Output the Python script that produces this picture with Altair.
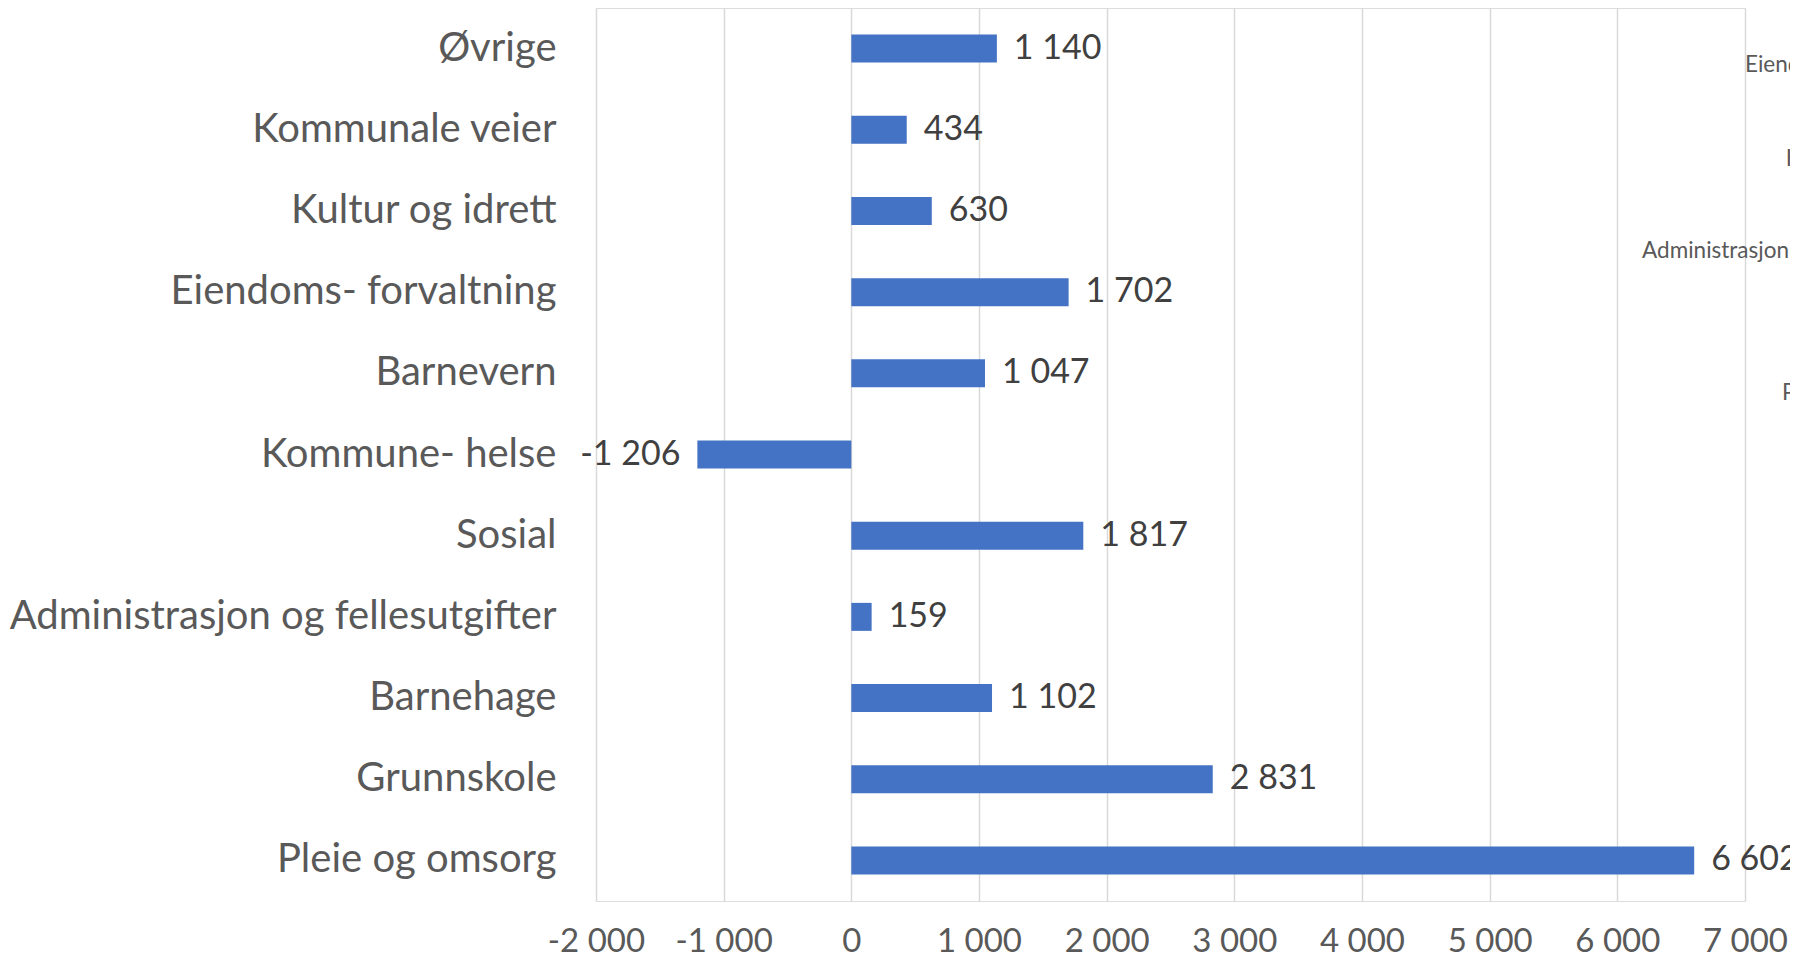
import altair as alt
import pandas as pd

categories = [
    "Øvrige",
    "Kommunale veier",
    "Kultur og idrett",
    "Eiendoms- forvaltning",
    "Barnevern",
    "Kommune- helse",
    "Sosial",
    "Administrasjon og fellesutgifter",
    "Barnehage",
    "Grunnskole",
    "Pleie og omsorg",
]
values = [1140, 434, 630, 1702, 1047, -1206, 1817, 159, 1102, 2831, 6602]

x_ticks = [-2000, -1000, 0, 1000, 2000, 3000, 4000, 5000, 6000, 7000]

# fragments of text from a neighbouring chart, cut off at the right edge
ghost_texts = ["Eiendoms- forvaltning", "Kommunale veier", "Administrasjon og fellesutgifter", "Pleie og omsorg"]
ghost_x = [7000, 7320, 6194, 7290]
ghost_y = [57, 151, 243, 385]


def fmt(v):
    s = f"{abs(v):,}".replace(",", " ")
    return ("-" if v < 0 else "") + s


df = pd.DataFrame({"cat": categories, "val": values, "label": [fmt(v) for v in values]})
gdf = pd.DataFrame({"txt": ghost_texts, "gx": ghost_x, "gy": ghost_y})

FONT = "Lato"
x_scale = alt.Scale(domain=[-2000, 7000], nice=False, zero=False)
y_scale = alt.Scale(domain=categories, paddingInner=0.655, paddingOuter=0.3275)

x_enc = alt.X(
    "val:Q",
    scale=x_scale,
    axis=alt.Axis(
        values=x_ticks,
        title=None,
        domain=False,
        ticks=False,
        grid=True,
        gridColor="#d9d9d9",
        gridWidth=1.5,
        labelFont=FONT,
        labelFontSize=33,
        labelColor="#595959",
        labelPadding=24,
        labelOverlap=False,
        labelFlush=False,
        labelBound=False,
        labelExpr="replace(replace(format(datum.value, ','), ',', ' '), '\u2212', '-')",
    ),
)
y_enc = alt.Y(
    "cat:N",
    scale=y_scale,
    sort=categories,
    axis=alt.Axis(
        title=None,
        domain=False,
        ticks=False,
        grid=False,
        labelFont=FONT,
        labelFontSize=40,
        labelColor="#595959",
        labelPadding=40,
        labelLimit=700,
    ),
)

base = alt.Chart(df)
bars = base.mark_bar(color="#4472C4").encode(x=x_enc, y=y_enc)

pos_labels = base.transform_filter("datum.val >= 0").mark_text(
    align="left", baseline="middle", dx=17, font=FONT, fontSize=34, color="#404040"
).encode(x="val:Q", y=alt.Y("cat:N", sort=categories), text="label:N")

neg_labels = base.transform_filter("datum.val < 0").mark_text(
    align="right", baseline="middle", dx=-17, font=FONT, fontSize=34, color="#404040"
).encode(x="val:Q", y=alt.Y("cat:N", sort=categories), text="label:N")

ghost = alt.Chart(gdf).mark_text(
    align="left", baseline="middle", font=FONT, fontSize=22.5, color="#595959", clip=False
).encode(x=alt.X("gx:Q"), y=alt.Y("gy:Q", scale=None), text="txt:N")

chart = (
    alt.layer(bars, pos_labels, neg_labels, ghost)
    .properties(
        width=1149,
        height=893,
        autosize=alt.AutoSizeParams(type="none"),
        padding={"left": 588, "top": 0, "right": 45, "bottom": 51},
    )
    .configure_view(stroke=None)
    .configure(background="white")
)

chart.save("out.html", embed_options={"renderer": "svg", "actions": False})
